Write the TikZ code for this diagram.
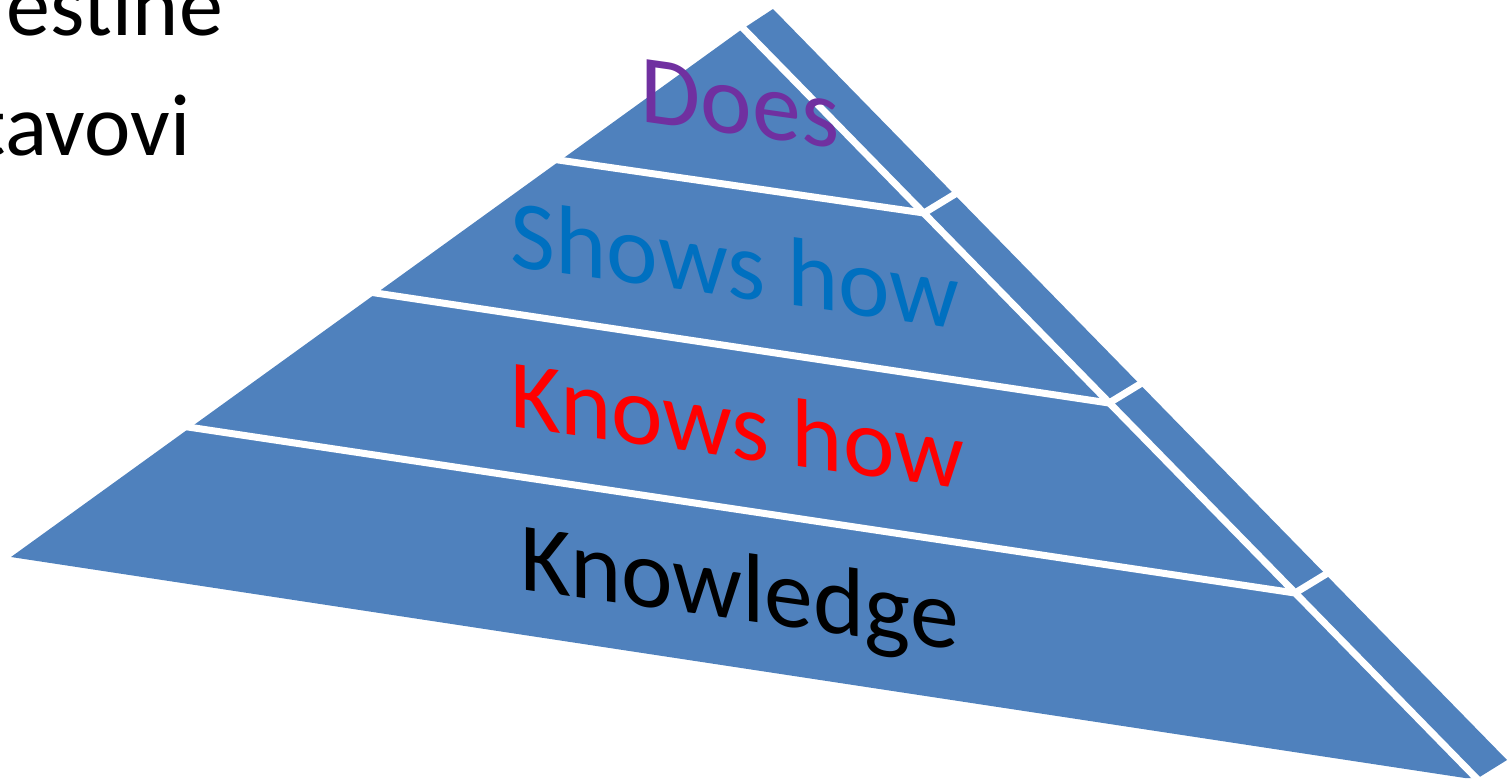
\documentclass[tikz,border=0pt]{standalone}
\usepackage{fontspec}
\setmainfont{Carlito}
\usepackage{tikz}

\begin{document}
\begin{tikzpicture}[x=0.01cm, y=-0.01cm]
	\definecolor{PYRAMID_BLUE}{RGB}{79, 129, 189}
	\definecolor{DOES_PURPLE}{RGB}{112, 48, 160}
	\definecolor{SHOWS_BLUE}{RGB}{0, 112, 192}
	\definecolor{KNOWS_RED}{RGB}{255, 0, 0}
	\tikzset{
		gap/.style={line width={0.7mm}, color=white},
		level/.style={anchor=base west, inner sep=0pt, font={\fontsize{27.8}{30}\selectfont}, yslant=-0.14, transform shape},
		bullet/.style={anchor=base west, inner sep=0pt, font={\fontsize{25}{30}\selectfont}}
	}
	\useasboundingbox (0, 0) rectangle (1509, 778);
	\clip (0, 0) rectangle (1509, 778);

	% outline of the pyramid
	\coordinate (base left) at (11, 557);
	\coordinate (apex) at (741, 30);
	\coordinate (side top) at (773, 9);
	\coordinate (side bottom) at (1507, 760);
	\coordinate (side foot) at (1478, 778);
	\coordinate (base right) at (1465, 778);
	\fill[PYRAMID_BLUE] (base left) -- (apex) -- (side top) -- (side bottom) -- (side foot) -- (base right) -- cycle;

	% white gaps
	\coordinate (ridge top) at (735, 20);
	\coordinate (ridge bottom) at (1481, 783);
	\coordinate (ridge 1) at (924, 213);
	\coordinate (ridge 2) at (1109, 403);
	\coordinate (ridge 3) at (1295, 593);
	\coordinate (edge 1) at (548, 158.5);
	\coordinate (edge 2) at (365, 291.4);
	\coordinate (edge 3) at (180, 425.8);
	\coordinate (rim 1) at (965, 188);
	\coordinate (rim 2) at (1150, 378);
	\coordinate (rim 3) at (1336, 568);
	\draw[gap] (ridge top) -- (ridge bottom);
	\draw[gap] (edge 1) -- (ridge 1) -- (rim 1);
	\draw[gap] (edge 2) -- (ridge 2) -- (rim 2);
	\draw[gap] (edge 3) -- (ridge 3) -- (rim 3);

	% levels
	\node[level, DOES_PURPLE] (does) at (640, 121) {Does};
	\node[level, SHOWS_BLUE] (shows how) at (510, 266) {Shows how};
	\node[level, KNOWS_RED] (knows how) at (510, 426) {Knows how};
	\node[level, black] (knowledge) at (520, 589) {Knowledge};

	% text cut at the left, as in the slide
	\node[bullet] (skills) at (-15, 35) {jestine};
	\node[bullet] (attitudes) at (-24, 155) {tavovi};
\end{tikzpicture}
\end{document}
